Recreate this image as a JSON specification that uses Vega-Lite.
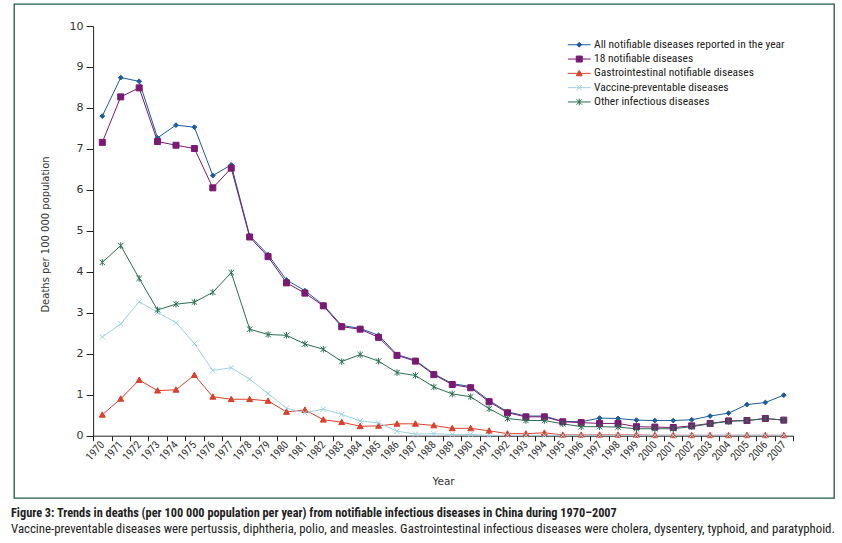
{
  "$schema": "https://vega.github.io/schema/vega-lite/v6.json",
  "width": 820,
  "height": 494,
  "padding": {"left": 9, "top": 4, "right": 0, "bottom": 0},
  "autosize": {"type": "pad"},
  "background": "white",
  "config": {
    "view": {"stroke": "#1f5a44", "strokeWidth": 1.3},
    "font": "DejaVu Sans"
  },
  "title": {
    "text": "Figure 3: Trends in deaths (per 100 000 population per year) from notifiable infectious diseases in China during 1970–2007",
    "subtitle": "Vaccine-preventable diseases were pertussis, diphtheria, polio, and measles. Gastrointestinal infectious diseases were cholera, dysentery, typhoid, and paratyphoid.",
    "orient": "bottom",
    "anchor": "start",
    "frame": "group",
    "offset": 9,
    "dx": -3,
    "font": "Liberation Sans Narrow, Roboto Condensed, Liberation Sans",
    "fontSize": 12.3,
    "fontWeight": "bold",
    "color": "#222",
    "subtitleFont": "Liberation Sans Narrow, Roboto Condensed, Liberation Sans",
    "subtitleFontSize": 12.8,
    "subtitleColor": "#222",
    "subtitlePadding": 4
  },
  "data": {
    "values": [
      {"year": "1970", "all": 7.80, "n18": 7.16, "gi": 0.51, "vac": 2.41, "other": 4.23},
      {"year": "1971", "all": 8.74, "n18": 8.27, "gi": 0.90, "vac": 2.73, "other": 4.64},
      {"year": "1972", "all": 8.65, "n18": 8.49, "gi": 1.36, "vac": 3.27, "other": 3.84},
      {"year": "1973", "all": 7.27, "n18": 7.18, "gi": 1.10, "vac": 3.01, "other": 3.07},
      {"year": "1974", "all": 7.58, "n18": 7.09, "gi": 1.12, "vac": 2.76, "other": 3.21},
      {"year": "1975", "all": 7.53, "n18": 7.01, "gi": 1.48, "vac": 2.25, "other": 3.26},
      {"year": "1976", "all": 6.35, "n18": 6.05, "gi": 0.95, "vac": 1.59, "other": 3.50},
      {"year": "1977", "all": 6.61, "n18": 6.53, "gi": 0.89, "vac": 1.66, "other": 3.98},
      {"year": "1978", "all": 4.88, "n18": 4.85, "gi": 0.89, "vac": 1.38, "other": 2.60},
      {"year": "1979", "all": 4.42, "n18": 4.37, "gi": 0.85, "vac": 1.03, "other": 2.47},
      {"year": "1980", "all": 3.80, "n18": 3.73, "gi": 0.58, "vac": 0.67, "other": 2.45},
      {"year": "1981", "all": 3.54, "n18": 3.48, "gi": 0.63, "vac": 0.56, "other": 2.24},
      {"year": "1982", "all": 3.19, "n18": 3.17, "gi": 0.39, "vac": 0.65, "other": 2.11},
      {"year": "1983", "all": 2.69, "n18": 2.66, "gi": 0.33, "vac": 0.52, "other": 1.81},
      {"year": "1984", "all": 2.62, "n18": 2.60, "gi": 0.23, "vac": 0.36, "other": 1.98},
      {"year": "1985", "all": 2.45, "n18": 2.40, "gi": 0.24, "vac": 0.31, "other": 1.82},
      {"year": "1986", "all": 1.98, "n18": 1.96, "gi": 0.29, "vac": 0.11, "other": 1.54},
      {"year": "1987", "all": 1.84, "n18": 1.82, "gi": 0.29, "vac": 0.04, "other": 1.47},
      {"year": "1988", "all": 1.51, "n18": 1.49, "gi": 0.25, "vac": 0.05, "other": 1.19},
      {"year": "1989", "all": 1.27, "n18": 1.25, "gi": 0.18, "vac": 0.03, "other": 1.02},
      {"year": "1990", "all": 1.20, "n18": 1.17, "gi": 0.18, "vac": 0.03, "other": 0.95},
      {"year": "1991", "all": 0.86, "n18": 0.83, "gi": 0.12, "vac": 0.01, "other": 0.66},
      {"year": "1992", "all": 0.58, "n18": 0.56, "gi": 0.05, "vac": 0.01, "other": 0.42},
      {"year": "1993", "all": 0.48, "n18": 0.46, "gi": 0.05, "vac": 0.01, "other": 0.37},
      {"year": "1994", "all": 0.48, "n18": 0.46, "gi": 0.07, "vac": 0.01, "other": 0.37},
      {"year": "1995", "all": 0.35, "n18": 0.34, "gi": 0.02, "vac": 0.01, "other": 0.29},
      {"year": "1996", "all": 0.34, "n18": 0.32, "gi": 0.02, "vac": 0.01, "other": 0.22},
      {"year": "1997", "all": 0.43, "n18": 0.30, "gi": 0.02, "vac": 0.01, "other": 0.22},
      {"year": "1998", "all": 0.42, "n18": 0.30, "gi": 0.02, "vac": 0.01, "other": 0.21},
      {"year": "1999", "all": 0.38, "n18": 0.22, "gi": 0.02, "vac": 0.01, "other": 0.17},
      {"year": "2000", "all": 0.37, "n18": 0.21, "gi": 0.01, "vac": 0.01, "other": 0.17},
      {"year": "2001", "all": 0.37, "n18": 0.20, "gi": 0.01, "vac": 0.01, "other": 0.17},
      {"year": "2002", "all": 0.39, "n18": 0.24, "gi": 0.01, "vac": 0.01, "other": 0.22},
      {"year": "2003", "all": 0.48, "n18": 0.30, "gi": 0.01, "vac": 0.01, "other": 0.29},
      {"year": "2004", "all": 0.55, "n18": 0.36, "gi": 0.01, "vac": 0.01, "other": 0.35},
      {"year": "2005", "all": 0.76, "n18": 0.37, "gi": 0.01, "vac": 0.01, "other": 0.37},
      {"year": "2006", "all": 0.81, "n18": 0.42, "gi": 0.01, "vac": 0.01, "other": 0.42},
      {"year": "2007", "all": 0.99, "n18": 0.38, "gi": 0.01, "vac": 0.01, "other": 0.38}
    ]
  },
  "transform": [
    {"fold": ["all", "n18", "gi", "vac", "other"], "as": ["series", "value"]}
  ],
  "encoding": {
    "x": {
      "field": "year",
      "type": "ordinal",
      "scale": {"type": "band", "range": [79.1, 779], "paddingInner": 0, "paddingOuter": 0},
      "axis": {
        "offset": -62.3,
        "tickBand": "extent",
        "labelAngle": -48,
        "labelAlign": "right",
        "labelBaseline": "middle",
        "labelPadding": 2,
        "labelFont": "Liberation Sans Narrow, Roboto Condensed, Liberation Sans",
        "labelFontSize": 11,
        "labelColor": "#333",
        "tickSize": 5,
        "tickColor": "#222",
        "domainColor": "#222",
        "title": "Year",
        "titleFont": "DejaVu Sans",
        "titleFontSize": 10.5,
        "titleFontWeight": "normal",
        "titleColor": "#333",
        "titleY": 46,
        "titleBaseline": "middle"
      }
    },
    "y": {
      "field": "value",
      "type": "quantitative",
      "scale": {"domain": [0, 10], "range": [431.7, 22], "nice": false, "zero": true},
      "axis": {
        "offset": -79.1,
        "values": [0, 1, 2, 3, 4, 5, 6, 7, 8, 9, 10],
        "grid": false,
        "tickSize": 7,
        "tickColor": "#222",
        "domainColor": "#222",
        "labelPadding": 3,
        "labelFont": "DejaVu Sans",
        "labelFontSize": 11,
        "labelColor": "#333",
        "title": "Deaths per 100 000 population",
        "titleFont": "DejaVu Sans",
        "titleFontSize": 10,
        "titleFontWeight": "normal",
        "titleColor": "#333",
        "titleX": -48,
        "titleY": 230,
        "titleAlign": "center",
        "titleBaseline": "middle"
      }
    }
  },
  "layer": [
    {
      "mark": {"type": "line", "strokeWidth": 1},
      "encoding": {
        "color": {
          "field": "series",
          "type": "nominal",
          "scale": {
            "domain": ["all", "n18", "gi", "vac", "other"],
            "range": ["#1d5c9c", "#7a1a72", "#d9412f", "#9fd2e3", "#2b6e4e"]
          },
          "legend": {
            "orient": "none",
            "legendX": 559.5,
            "legendY": 35,
            "title": null,
            "padding": 0,
            "symbolSize": 36,
            "labelOffset": 9,
            "labelLimit": 0,
            "rowPadding": 1.3,
            "labelFont": "Liberation Sans Narrow, Roboto Condensed, Liberation Sans",
            "labelFontSize": 11.5,
            "labelColor": "#222",
            "labelExpr": "datum.value === 'all' ? 'All notifiable diseases reported in the year' : datum.value === 'n18' ? '18 notifiable diseases' : datum.value === 'gi' ? 'Gastrointestinal notifiable diseases' : datum.value === 'vac' ? 'Vaccine-preventable diseases' : 'Other infectious diseases'",
            "encoding": {
              "symbols": {
                "shape": {"value": {"expr": "datum.value === 'all' ? 'M-3.8,0L3.8,0M0,-0.8L0.8,0L0,0.8L-0.8,0Z' : datum.value === 'n18' ? 'M-3.8,0L3.8,0M-1,-1L1,-1L1,1L-1,1Z' : datum.value === 'gi' ? 'M-3.8,0L3.8,0M0,-1L1,0.8L-1,0.8Z' : datum.value === 'vac' ? 'M-3.8,0L3.8,0M-0.9,-0.9L0.9,0.9M-0.9,0.9L0.9,-0.9' : 'M-3.8,0L3.8,0M-0.9,-0.9L0.9,0.9M-0.9,0.9L0.9,-0.9M0,-1.1L0,1.1'"}},
                "fill": {"value": {"expr": "scale('color', datum.value)"}},
                "strokeWidth": {"value": 1},
                "opacity": {"value": 1}
              }
            }
          }
        }
      }
    },
    {
      "transform": [{"filter": "datum.series === 'all'"}],
      "mark": {"type": "point", "shape": "M0,-0.8L0.8,0L0,0.8L-0.8,0Z", "filled": true, "fill": "#1d5c9c", "stroke": "#1d5c9c", "opacity": 1, "size": 36, "strokeWidth": 1}
    },
    {
      "transform": [{"filter": "datum.series === 'n18'"}],
      "mark": {"type": "point", "shape": "M-1,-1L1,-1L1,1L-1,1Z", "filled": true, "fill": "#7a1a72", "stroke": "#7a1a72", "opacity": 1, "size": 36, "strokeWidth": 1}
    },
    {
      "transform": [{"filter": "datum.series === 'gi'"}],
      "mark": {"type": "point", "shape": "M0,-1L1,0.8L-1,0.8Z", "filled": true, "fill": "#d9412f", "stroke": "#d9412f", "opacity": 1, "size": 36, "strokeWidth": 1}
    },
    {
      "transform": [{"filter": "datum.series === 'vac'"}],
      "mark": {"type": "point", "shape": "M-0.9,-0.9L0.9,0.9M-0.9,0.9L0.9,-0.9", "filled": false, "fill": "transparent", "stroke": "#9fd2e3", "opacity": 1, "size": 36, "strokeWidth": 1}
    },
    {
      "transform": [{"filter": "datum.series === 'other'"}],
      "mark": {"type": "point", "shape": "M-0.9,-0.9L0.9,0.9M-0.9,0.9L0.9,-0.9M0,-1.1L0,1.1", "filled": false, "fill": "transparent", "stroke": "#2b6e4e", "opacity": 1, "size": 36, "strokeWidth": 1}
    }
  ]
}
